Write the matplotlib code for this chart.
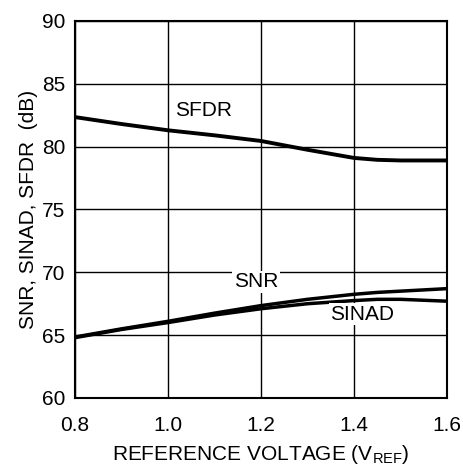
import numpy as np
import matplotlib.pyplot as plt

plt.rcParams['font.family'] = ['Liberation Sans', 'DejaVu Sans']

# data
vref = [0.8, 0.9, 1.0, 1.1, 1.2, 1.3, 1.4, 1.45, 1.5, 1.6]
sfdr = [82.35, 81.8, 81.3, 80.9, 80.45, 79.75, 79.1, 78.95, 78.9, 78.9]
snr = [64.85, 65.5, 66.1, 66.75, 67.35, 67.85, 68.25, 68.4, 68.5, 68.7]
sinad = [64.8, 65.45, 66.0, 66.6, 67.1, 67.5, 67.75, 67.85, 67.85, 67.7]

fs = 15

fig = plt.figure(figsize=(4.64, 4.66), dpi=100)
ax = fig.add_axes([0.1616, 0.146, 0.802, 0.809])

ax.plot(vref, sfdr, color='black', lw=2.8, solid_capstyle='butt')
ax.plot(vref, snr, color='black', lw=2.5, solid_capstyle='butt')
ax.plot(vref, sinad, color='black', lw=2.5, solid_capstyle='butt')

ax.set_xlim(0.8, 1.6)
ax.set_ylim(60, 90)
ax.set_xticks([0.8, 1.0, 1.2, 1.4, 1.6])
ax.set_yticks(np.arange(60, 91, 5))
ax.grid(True, color='black', lw=1.0)
ax.tick_params(length=0, labelsize=fs)
ax.tick_params(axis='x', pad=13)
ax.tick_params(axis='y', pad=7)
for s in ax.spines.values():
    s.set_linewidth(1.5)

ax.text(1.076, 82.9, 'SFDR', fontsize=fs, ha='center', va='center')
ax.text(1.189, 69.25, 'SNR', fontsize=fs, ha='center', va='center',
        bbox=dict(facecolor='white', edgecolor='none', pad=1))
ax.text(1.417, 66.65, 'SINAD', fontsize=fs, ha='center', va='center',
        bbox=dict(facecolor='white', edgecolor='none', pad=1))

ax.set_xlabel('REFERENCE VOLTAGE (V$_{\\mathregular{REF}}$)', fontsize=fs, labelpad=6)
ax.set_ylabel('SNR, SINAD, SFDR  (dB)', fontsize=fs, labelpad=3)

fig.savefig('out.png', dpi=100)
